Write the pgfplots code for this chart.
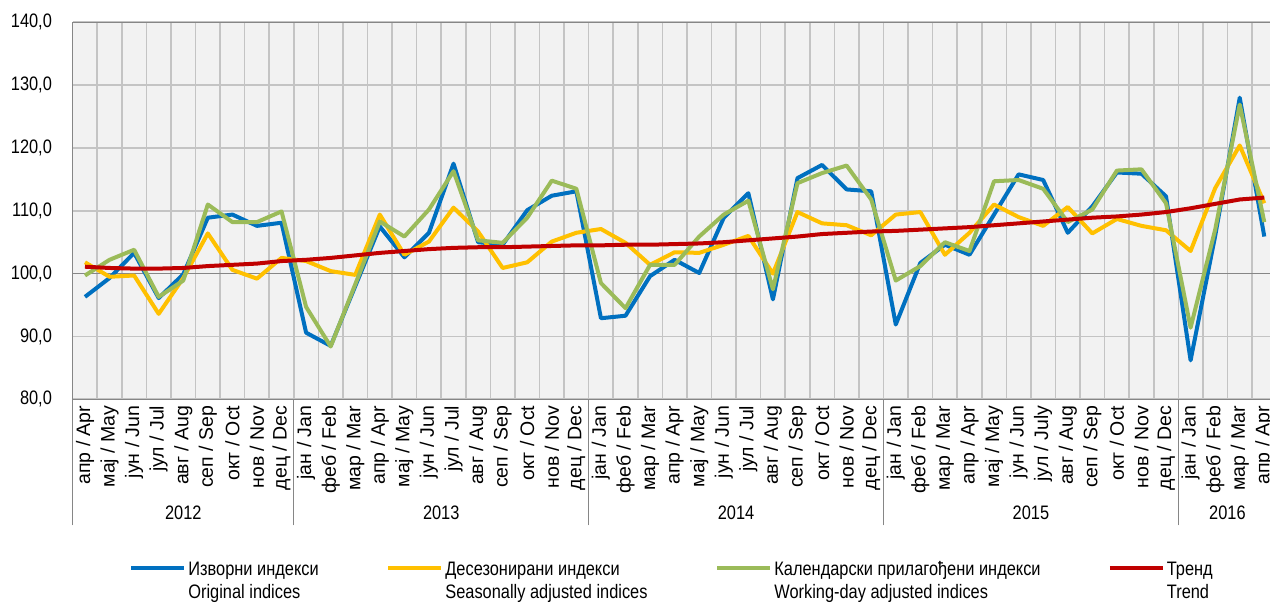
\documentclass[border=0pt]{standalone}
\usepackage{pgfplots}
\usepackage{pgfplotstable}
\pgfplotsset{compat=1.18}
\usepackage{fontspec}
\setmainfont{Liberation Sans}
\newfontfamily\narrow[FakeStretch=0.84]{Liberation Sans}
\definecolor{cBlue}{RGB}{0,112,192}
\definecolor{cYel}{RGB}{255,192,0}
\definecolor{cGreen}{RGB}{155,187,89}
\definecolor{cRed}{RGB}{192,0,0}
\definecolor{bgc}{RGB}{242,242,242}
\definecolor{gridc}{RGB}{196,196,196}
\definecolor{framec}{RGB}{134,134,134}

\pgfplotstableread{
n blue yel green trend
0 96.3 101.8 99.7 101.1
1 99.3 99.5 102.2 100.9
2 103.3 99.7 103.8 100.8
3 96.1 93.6 96.3 100.8
4 99.9 99.3 98.9 100.9
5 108.9 106.4 111.0 101.2
6 109.4 100.6 108.2 101.4
7 107.6 99.2 108.2 101.6
8 108.1 102.5 109.9 102.0
9 90.6 102.0 94.7 102.2
10 88.5 100.4 88.4 102.5
11 98.0 99.8 98.3 102.9
12 107.5 109.4 108.3 103.3
13 102.6 103.0 105.9 103.6
14 106.5 105.1 110.2 103.9
15 117.5 110.5 116.3 104.1
16 105.0 106.7 105.3 104.2
17 104.6 100.9 104.9 104.2
18 110.1 101.8 108.9 104.3
19 112.4 105.1 114.8 104.4
20 113.1 106.5 113.5 104.5
21 92.9 107.1 98.5 104.5
22 93.3 104.9 94.5 104.6
23 99.6 101.4 101.4 104.6
24 102.2 103.4 101.4 104.7
25 100.1 103.3 105.9 104.8
26 108.9 104.6 109.4 105.0
27 112.8 106.0 111.6 105.3
28 95.9 100.0 97.5 105.6
29 115.2 109.8 114.4 105.9
30 117.3 108.0 116.0 106.3
31 113.4 107.7 117.2 106.5
32 113.1 106.1 111.8 106.7
33 91.9 109.4 98.9 106.8
34 101.7 109.8 101.2 107.0
35 104.6 103.0 105.0 107.2
36 103.0 106.5 103.6 107.4
37 109.4 111.0 114.7 107.7
38 115.8 109.0 114.9 108.0
39 114.9 107.6 113.5 108.3
40 106.5 110.6 108.2 108.6
41 110.7 106.4 110.2 108.9
42 116.1 108.7 116.4 109.1
43 115.9 107.6 116.6 109.4
44 112.3 106.9 111.2 109.8
45 86.2 103.6 91.4 110.4
46 106.0 113.6 107.0 111.1
47 128.0 120.4 126.9 111.8
48 105.9 111.2 108.2 112.1
}\data

\begin{document}
\begin{tikzpicture}
\begin{axis}[name=ax, at={(0,0)}, anchor=south west,
  scale only axis, width=601.95pt, height=188.5pt,
  xmin=-0.5, xmax=48.5, ymin=80, ymax=140,
  clip=false,
  axis background/.style={fill=bgc},
  axis line style={draw=framec, line width=0.6pt},
  xtick pos=left, ytick pos=left,
  ytick={80,90,...,140},
  major tick length=0pt, minor tick length=0pt,
  yticklabel style={anchor=east, inner sep=0pt, xshift=-10.2pt, font=\narrow\fontsize{9.75}{11}\selectfont},
  xtick={0,...,48},
  xticklabels={апр / Apr, мај / May, јун / Jun, јул / Jul, авг / Aug, сеп / Sep, окт / Oct, нов / Nov, дец / Dec,
    јан / Jan, феб / Feb, мар / Mar, апр / Apr, мај / May, јун / Jun, јул / Jul, авг / Aug, сеп / Sep, окт / Oct, нов / Nov, дец / Dec,
    јан / Jan, феб / Feb, мар / Mar, апр / Apr, мај / May, јун / Jun, јул / Jul, авг / Aug, сеп / Sep, окт / Oct, нов / Nov, дец / Dec,
    јан / Jan, феб / Feb, мар / Mar, апр / Apr, мај / May, јун / Jun, јул / July, авг / Aug, сеп / Sep, окт / Oct, нов / Nov, дец / Dec,
    јан / Jan, феб / Feb, мар / Mar, апр / Apr},
  xticklabel style={rotate=90, anchor=east, inner sep=0pt, font=\fontsize{9.75}{11}\selectfont},
  xticklabel shift=3pt,
  minor xtick={-0.5,0.5,...,48.5}, xminorgrids=true,
  ymajorgrids=true,
  minor grid style={draw=gridc, line width=0.8pt},
  major grid style={draw=gridc, line width=0.8pt},
  extra y ticks={100}, extra y tick labels={},
  extra y tick style={grid=major, major grid style={draw=framec, line width=0.8pt}},
  extra x ticks={-0.5,8.5,20.5,32.5,44.5}, extra x tick labels={},
  extra x tick style={major tick length=63pt, tick align=outside, tick style={draw=framec, line width=0.6pt}},
  every axis plot/.append style={line width=2pt, line join=round, no markers},
  legend columns=4,
  legend cell align=left,
  legend image code/.code={\path (0pt,-0.75pt); \draw[#1] (0pt,0.75pt) -- (26.5pt,0.75pt);},
  legend style={draw=none, fill=none, inner sep=0pt, column sep=0pt,
    nodes={inner sep=0pt, outer sep=0pt},
    /tikz/every odd column/.append style={column sep=1pt},
    font=\narrow\fontsize{9.75}{11.5}\selectfont,
    at={(rel axis cs:0,0)}, anchor=north west, xshift=28.15pt, yshift=-80.85pt},
  /pgf/number format/fixed, /pgf/number format/fixed zerofill,
  /pgf/number format/precision=1, /pgf/number format/use comma,
  /pgf/number format/assume math mode=true,
]
\addplot[cBlue] table[x=n, y=blue] {\data};
\addlegendentry{\parbox[t]{99pt}{Изворни индекси\\Original indices}}
\addplot[cYel] table[x=n, y=yel] {\data};
\addlegendentry{\parbox[t]{135pt}{Десезонирани индекси\\Seasonally adjusted indices}}
\addplot[cGreen] table[x=n, y=green] {\data};
\addlegendentry{\parbox[t]{166.75pt}{Календарски прилагођени индекси\\Working-day adjusted indices}}
\addplot[cRed] table[x=n, y=trend] {\data};
\addlegendentry{\parbox[t]{40pt}{Тренд\\Trend}}
\node[font=\narrow\fontsize{9.75}{11}\selectfont, anchor=base, yshift=-60.35pt] at (axis cs:4,80) {2012};
\node[font=\narrow\fontsize{9.75}{11}\selectfont, anchor=base, yshift=-60.35pt] at (axis cs:14.5,80) {2013};
\node[font=\narrow\fontsize{9.75}{11}\selectfont, anchor=base, yshift=-60.35pt] at (axis cs:26.5,80) {2014};
\node[font=\narrow\fontsize{9.75}{11}\selectfont, anchor=base, yshift=-60.35pt] at (axis cs:38.5,80) {2015};
\node[font=\narrow\fontsize{9.75}{11}\selectfont, anchor=base, yshift=-60.35pt] at (axis cs:46.5,80) {2016};
\end{axis}
\pgfresetboundingbox
\path[use as bounding box] (ax.south west) ++(-36.35pt,-101.85pt) rectangle ++(635pt,301.5pt);
\end{tikzpicture}
\end{document}
